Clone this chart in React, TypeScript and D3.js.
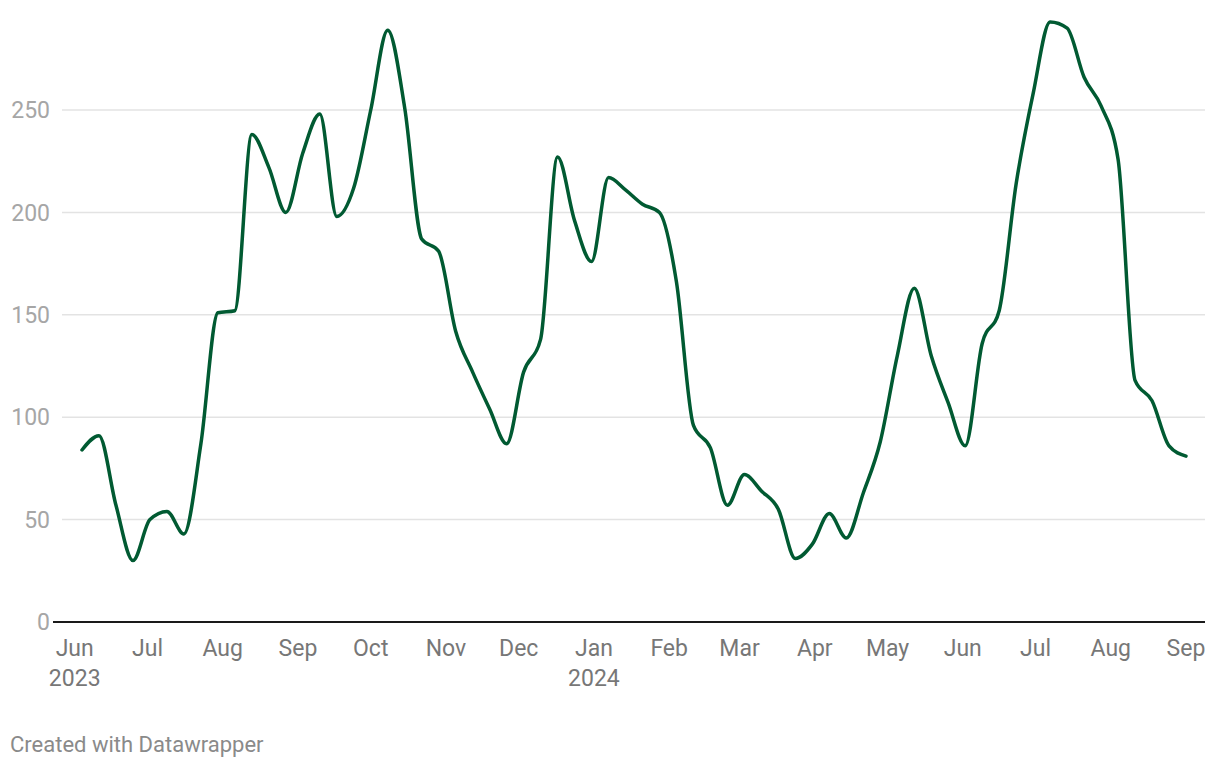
import React from "react";
import * as d3 from "d3";

const startDate = new Date(2023, 5, 4);
const values: number[] = [
  84, 91, 57, 30, 50, 54, 43, 87, 151, 152,
  238, 222, 200, 229, 248, 198, 212, 250, 289, 251,
  187, 181, 142, 122, 104, 87, 122, 138, 227, 196,
  176, 217, 211, 204, 200, 166, 96, 85, 57, 72,
  64, 55, 31, 38, 53, 41, 63, 88, 130, 163,
  130, 107, 86, 136, 152, 214, 258, 293, 290, 266,
  252, 226, 118, 108, 86, 81,
];
const yTicks = [0, 50, 100, 150, 200, 250];
const monthNames = ["Jan", "Feb", "Mar", "Apr", "May", "Jun", "Jul", "Aug", "Sep", "Oct", "Nov", "Dec"];

const data = values.map((v, i) => ({ date: d3.timeDay.offset(startDate, i * 7), value: v }));

export default function App() {
  const W = 1220, H = 768;
  const x = d3.scaleTime().domain([data[0].date, data[data.length - 1].date]).range([82, 1186]);
  const y = d3.scaleLinear().domain([0, 250]).range([622, 110]);
  const line = d3.line<{ date: Date; value: number }>()
    .x(d => x(d.date))
    .y(d => y(d.value))
    .curve(d3.curveMonotoneX);
  const months = d3.timeMonth.range(new Date(2023, 5, 1), new Date(2024, 8, 2));
  const font = "Roboto, 'Noto Sans', sans-serif";
  return (
    <svg width={W} height={H} style={{ position: "absolute", left: 0, top: 0, background: "#fff" }} fontFamily={font}>
      {yTicks.filter(t => t > 0).map(t => (
        <line key={t} x1={62} x2={1205} y1={y(t)} y2={y(t)} stroke="#e3e3e3" strokeWidth={1.5} />
      ))}
      {yTicks.map(t => (
        <text key={"l" + t} x={50} y={y(t)} dy="0.36em" textAnchor="end" fontSize={23} fill="#a6a6a6">{t}</text>
      ))}
      <path d={line(data) || ""} fill="none" stroke="#015a32" strokeWidth={3.5} strokeLinejoin="round" strokeLinecap="round" />
      <line x1={53} x2={1205} y1={y(0)} y2={y(0)} stroke="#1a1a1a" strokeWidth={2} />
      {months.map((m, i) => (
        <g key={i}>
          <text x={x(m)} y={656} textAnchor="middle" fontSize={23} fill="#777">{monthNames[m.getMonth()]}</text>
          {(i === 0 || m.getMonth() === 0) && (
            <text x={x(m)} y={686} textAnchor="middle" fontSize={23} fill="#777">{m.getFullYear()}</text>
          )}
        </g>
      ))}
      <text x={10} y={752} fontSize={22} fill="#8a8a8a">Created with Datawrapper</text>
    </svg>
  );
}
